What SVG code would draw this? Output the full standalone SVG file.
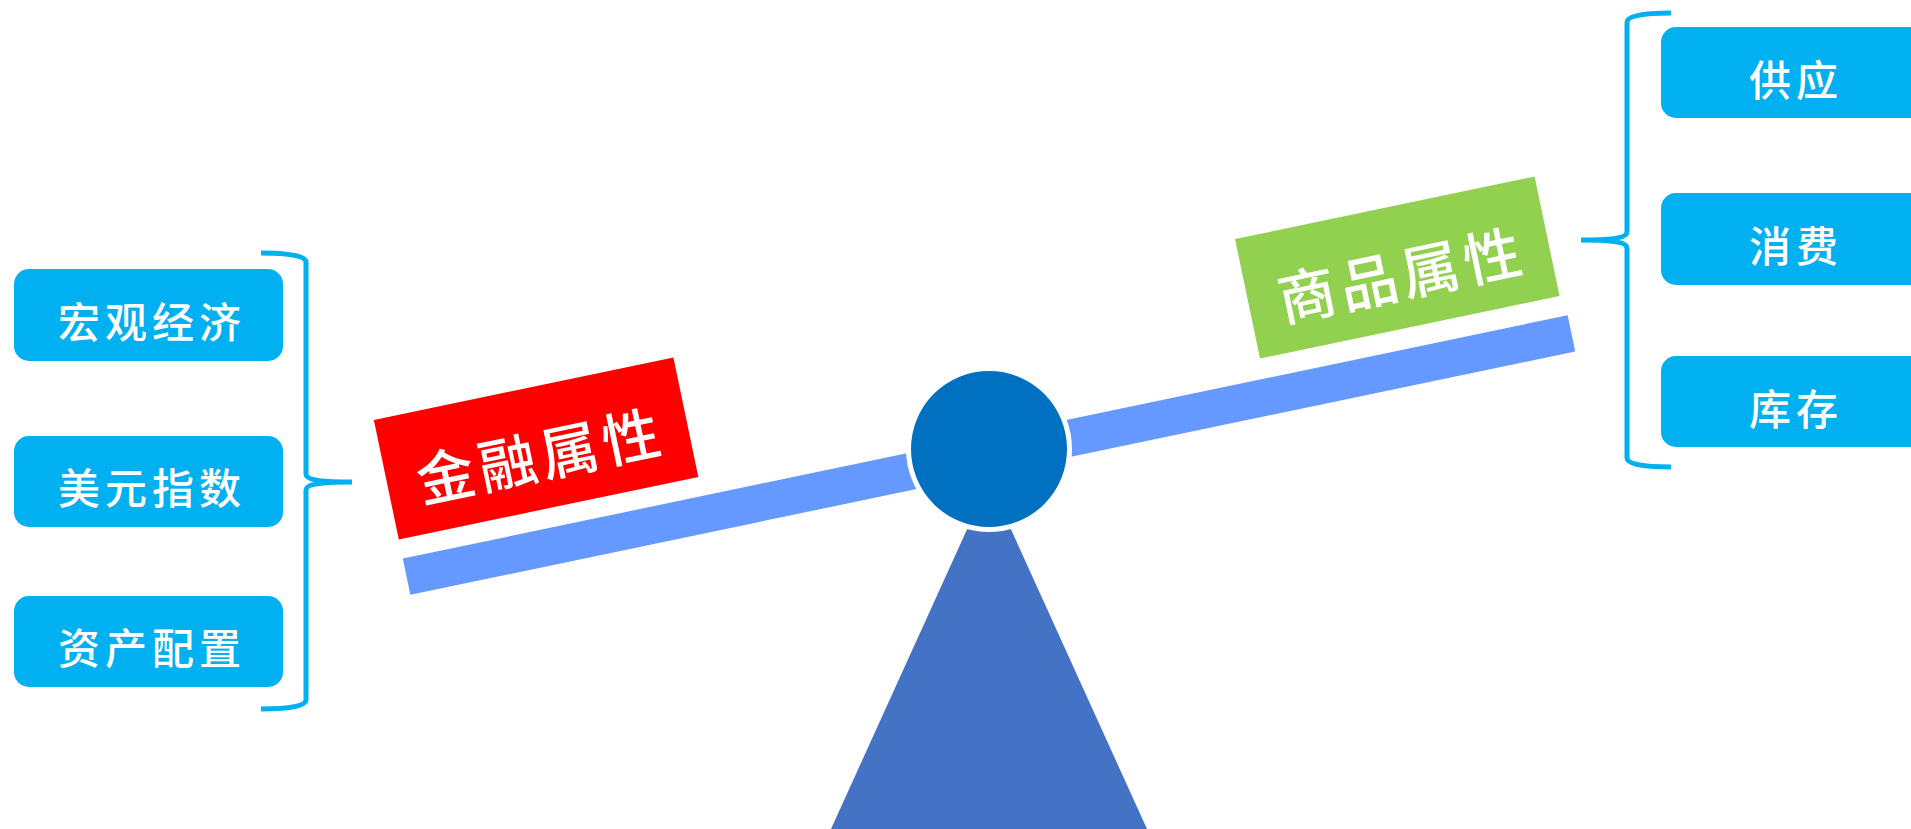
<svg xmlns="http://www.w3.org/2000/svg" width="1911" height="829" viewBox="0 0 1911 829">
<style>
.box{fill:#00B0F0}
.lbl{fill:#FFFFFF;font-family:"Noto Sans CJK SC","Noto Sans",sans-serif;font-size:42px;font-weight:500;letter-spacing:5px;text-anchor:middle;dominant-baseline:central}
.big{font-size:58px;letter-spacing:5px}
.brace{fill:none;stroke:#00B0F0;stroke-width:5}
</style>
<rect width="1911" height="829" fill="#FFFFFF"/>
<g id="fulcrum">
<polygon points="989,481 826,840 1152,840" fill="#4472C4"/>
</g>
<g id="beam" transform="translate(989,455) rotate(-11.8)">
<rect x="-595" y="-18.5" width="1190" height="37" fill="#6699FF"/>
</g>
<g id="pivot">
<circle cx="989" cy="449" r="80.5" fill="#0070C0" stroke="#FFFFFF" stroke-width="5"/>
</g>
<g id="financial" transform="translate(989,455) rotate(-11.8)">
<rect x="-595" y="-160" width="306" height="122" fill="#FF0000"/>
<text class="lbl big" x="-439" y="-94">金融属性</text>
</g>
<g id="commodity" transform="translate(989,455) rotate(-11.8)">
<rect x="285" y="-161" width="306" height="122" fill="#92D050"/>
<text class="lbl big" x="441" y="-95">商品属性</text>
</g>
<g id="macro">
<rect class="box" x="14" y="269" width="269" height="92" rx="15"/>
<text class="lbl" x="152" y="319">宏观经济</text>
</g>
<g id="dollar">
<rect class="box" x="14" y="436" width="269" height="91" rx="15"/>
<text class="lbl" x="152" y="485">美元指数</text>
</g>
<g id="allocation">
<rect class="box" x="14" y="596" width="269" height="91" rx="15"/>
<text class="lbl" x="152" y="645">资产配置</text>
</g>
<g id="supply">
<rect class="box" x="1661" y="27" width="269" height="91" rx="15"/>
<text class="lbl" x="1796" y="77">供应</text>
</g>
<g id="consumption">
<rect class="box" x="1661" y="193" width="269" height="92" rx="15"/>
<text class="lbl" x="1796" y="243">消费</text>
</g>
<g id="inventory">
<rect class="box" x="1661" y="356" width="269" height="91" rx="15"/>
<text class="lbl" x="1796" y="406">库存</text>
</g>
<g id="connectors">
<path class="brace" d="M261 253 C290 253 306 256 306 262 L306 474 C306 479 316 482 352 482 C316 482 306 485 306 490 L306 700 C306 706 290 709 261 709"/>
<path class="brace" d="M1671 13 C1642 13 1627 16 1627 22 L1627 232 C1627 237 1617 240 1581 240 C1617 240 1627 243 1627 248 L1627 458 C1627 464 1642 467 1671 467"/>
</g>
</svg>
